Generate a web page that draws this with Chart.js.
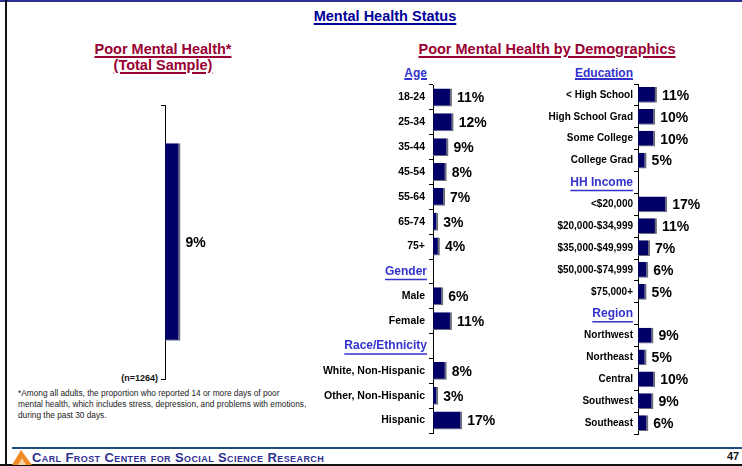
<!DOCTYPE html>
<html>
<head>
<meta charset="utf-8">
<script src="https://cdn.jsdelivr.net/npm/chart.js@4.4.0/dist/chart.umd.min.js"></script>
<style>
    body { margin: 0; background: #fff; }
    #page { position: relative; width: 742px; height: 466px; overflow: hidden; background: #fff;
            font-family: "Liberation Sans", Arial, sans-serif; }
    .txt { position: absolute; white-space: nowrap; font-weight: bold; }
    canvas { position: absolute; }
    .line { position: absolute; }
</style>
</head>
<body>
<div id="page">
    <div class="line" style="left:0;top:0;width:742px;height:2px;background:#2e3192;"></div>
    <div class="line" style="left:5px;top:0;width:2px;height:466px;background:#111;"></div>
    <div class="line" style="left:0;top:464px;width:742px;height:2px;background:#111;"></div>
    <div class="line" style="left:12px;top:447px;width:730px;height:1.5px;background:#1f4e79;"></div>

    <div class="txt" style="left:235px;top:8px;width:300px;text-align:center;font-size:14.5px;line-height:17px;color:#000099;text-decoration:underline;text-decoration-thickness:2px;text-underline-offset:2px;">Mental Health Status</div>

    <div class="txt" style="left:63px;top:41px;width:200px;text-align:center;font-size:14.5px;line-height:17px;color:#990033;text-decoration:underline;text-decoration-thickness:2px;text-underline-offset:2px;">Poor Mental Health*</div>
    <div class="txt" style="left:63px;top:57px;width:200px;text-align:center;font-size:14.5px;line-height:17px;color:#990033;text-decoration:underline;text-decoration-thickness:2px;text-underline-offset:2px;">(Total Sample)</div>
    <div class="txt" style="left:397px;top:41px;width:300px;text-align:center;font-size:14.5px;line-height:17px;color:#990033;text-decoration:underline;text-decoration-thickness:2px;text-underline-offset:2px;">Poor Mental Health by Demographics</div>

    <div class="txt" style="left:327px;top:66px;width:100px;text-align:right;font-size:12px;line-height:15px;color:#3333cc;text-decoration:underline;text-decoration-thickness:1.5px;">Age</div>
    <div class="txt" style="left:533px;top:66px;width:100px;text-align:right;font-size:12px;line-height:15px;color:#3333cc;text-decoration:underline;text-decoration-thickness:1.5px;">Education</div>

    <div class="txt" style="left:58px;top:373px;width:100px;text-align:right;font-size:9px;line-height:11px;color:#111;">(n=1264)</div>

    <div class="txt" style="left:18px;top:388px;font-size:8.3px;line-height:11px;color:#222;font-weight:normal;">*Among all adults, the proportion who reported 14 or more days of poor<br>mental health, which includes stress, depression, and problems with emotions,<br>during the past 30 days.</div>

    <svg style="position:absolute;left:12px;top:449px;" width="20" height="16" viewBox="0 0 20 16">
        <polygon points="0,16 9,1 20,16" fill="#f08a24"/>
        <polygon points="6,16 10,9 14,16" fill="#fbd2a0"/>
    </svg>
    <div class="txt" style="left:32px;top:450px;font-size:13px;line-height:15px;letter-spacing:0.4px;color:#2e3192;font-variant:small-caps;">Carl Frost Center for Social Science Research</div>
    <div class="txt" style="left:727px;top:449px;font-size:11px;line-height:14px;color:#111;">47</div>

    <canvas id="totalChart" width="105" height="294" style="left:155px;top:95px;"></canvas>
    <canvas id="middleChart" width="220" height="368" style="left:308px;top:75px;"></canvas>
    <canvas id="rightChart" width="200" height="370" style="left:533px;top:74px;"></canvas>
</div>

<script>
// 数据
const totalLabels = [''];
const totalValues = [9];

const ageLabels = ['18-24', '25-34', '35-44', '45-54', '55-64', '65-74', '75+'];
const ageValues = [11, 12, 9, 8, 7, 3, 4];

const genderLabels = ['Male', 'Female'];
const genderValues = [6, 11];

const raceLabels = ['White, Non-Hispanic', 'Other, Non-Hispanic', 'Hispanic'];
const raceValues = [8, 3, 17];

const educationLabels = ['< High School', 'High School Grad', 'Some College', 'College Grad'];
const educationValues = [11, 10, 10, 5];

const incomeLabels = ['<$20,000', '$20,000-$34,999', '$35,000-$49,999', '$50,000-$74,999', '$75,000+'];
const incomeValues = [17, 11, 7, 6, 5];

const regionLabels = ['Northwest', 'Northeast', 'Central', 'Southwest', 'Southeast'];
const regionValues = [9, 5, 10, 9, 6];

const FONT = '"Liberation Sans", Arial, sans-serif';
Chart.defaults.font.family = FONT;

// 数值标签
const valueLabels = {
    id: 'valueLabels',
    afterDatasetsDraw(chart) {
        const ctx = chart.ctx;
        const values = chart.data.datasets[0].data;
        ctx.save();
        ctx.font = 'bold 14px ' + FONT;
        ctx.fillStyle = '#000';
        ctx.textBaseline = 'middle';
        ctx.textAlign = 'left';
        chart.getDatasetMeta(0).data.forEach((bar, i) => {
            if (values[i] == null) return;
            ctx.fillText(values[i] + '%', bar.x + 5, bar.y + 1);
        });
        ctx.restore();
    }
};

// 分组标题 (Gender, Race/Ethnicity ...)
const groupHeaders = {
    id: 'groupHeaders',
    afterDraw(chart, args, opts) {
        const names = opts.names || [];
        if (!names.length) return;
        const scale = chart.scales.y;
        const ctx = chart.ctx;
        ctx.save();
        ctx.font = 'bold 12px ' + FONT;
        ctx.fillStyle = '#3333cc';
        ctx.strokeStyle = '#3333cc';
        ctx.lineWidth = 1.5;
        ctx.textAlign = 'right';
        ctx.textBaseline = 'middle';
        chart.data.labels.forEach((label, i) => {
            if (!names.includes(label)) return;
            const x = scale.right - opts.offset;
            const y = scale.getPixelForValue(i) + (opts.shift || 0);
            const w = ctx.measureText(label).width;
            ctx.fillText(label, x, y);
            ctx.beginPath();
            ctx.moveTo(x - w, y + 8);
            ctx.lineTo(x, y + 8);
            ctx.stroke();
        });
        ctx.restore();
    }
};

function makeChart(id, labels, values, headers, axisWidth, labelPadding, labelSize, headerOffset) {
    const ctx = document.getElementById(id).getContext('2d');
    return new Chart(ctx, {
        type: 'bar',
        data: {
            labels: labels,
            datasets: [{
                data: values,
                backgroundColor: '#000066',
                borderColor: '#6b6b7a',
                borderWidth: { top: 0, right: 2, bottom: 1, left: 0 },
                borderSkipped: 'start',
                barPercentage: 0.72,
                categoryPercentage: 1
            }]
        },
        options: {
            indexAxis: 'y',
            responsive: false,
            animation: false,
            layout: { padding: { top: 10, bottom: 10, left: 0, right: 9 } },
            plugins: {
                legend: { display: false },
                tooltip: { enabled: false },
                groupHeaders: { names: headers, offset: headerOffset }
            },
            scales: {
                x: { display: false, min: 0, max: 50 },
                y: {
                    afterFit(scale) {
                        scale.width = axisWidth;
                        scale.paddingTop = 0;
                        scale.paddingBottom = 0;
                    },
                    border: { display: true, color: '#000', width: 1 },
                    grid: { drawOnChartArea: false, drawTicks: true, tickLength: 4, color: '#000', offset: true },
                    ticks: {
                        padding: labelPadding,
                        color: '#000',
                        font: { size: labelSize, weight: 'bold' },
                        autoSkip: false,
                        callback: function(value) {
                            const l = this.getLabelForValue(value);
                            return headers.includes(l) ? '' : l;
                        }
                    }
                }
            }
        },
        plugins: [valueLabels, groupHeaders]
    });
}

// 左侧总样本
makeChart('totalChart', totalLabels, totalValues, [], 10, 1, 10, 6);

// 中间: 年龄 / 性别 / 种族
const middleLabels = [...ageLabels, 'Gender', ...genderLabels, 'Race/Ethnicity', ...raceLabels];
const middleValues = [...ageValues, null, ...genderValues, null, ...raceValues];
makeChart('middleChart', middleLabels, middleValues, ['Gender', 'Race/Ethnicity'], 125, 4, 10.5, 6);

// 右侧: 教育 / 收入 / 地区
const rightLabels = [...educationLabels, 'HH Income', ...incomeLabels, 'Region', ...regionLabels];
const rightValues = [...educationValues, null, ...incomeValues, null, ...regionValues];
makeChart('rightChart', rightLabels, rightValues, ['HH Income', 'Region'], 105, 1, 10, 5);
</script>
</body>
</html>
